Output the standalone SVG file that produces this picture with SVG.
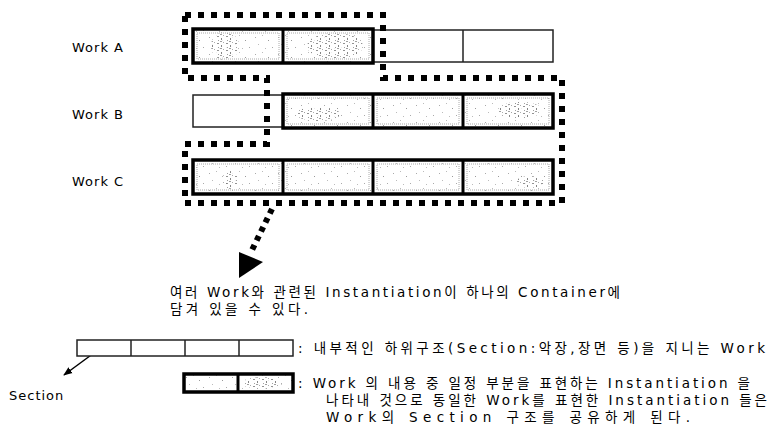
<svg xmlns="http://www.w3.org/2000/svg" width="776" height="426" viewBox="0 0 776 426">
<defs>
<pattern id="speck" width="23" height="17" patternUnits="userSpaceOnUse">
<rect width="23" height="17" fill="#fff"/>
<rect x="2" y="3" width="1" height="1" fill="#aaa"/>
<rect x="9" y="1" width="1" height="1" fill="#bbb"/>
<rect x="15" y="6" width="1" height="1" fill="#999"/>
<rect x="5" y="10" width="1" height="1" fill="#bbb"/>
<rect x="19" y="13" width="1" height="1" fill="#aaa"/>
<rect x="12" y="14" width="1" height="1" fill="#bbb"/>
</pattern>
<pattern id="dense" width="9" height="7" patternUnits="userSpaceOnUse">
<rect width="9" height="7" fill="#fff"/>
<rect x="1" y="1" width="2" height="1" fill="#777"/>
<rect x="5" y="3" width="1" height="2" fill="#666"/>
<rect x="2" y="5" width="1" height="1" fill="#888"/>
<rect x="7" y="0" width="1" height="1" fill="#999"/>
<rect x="4" y="6" width="2" height="1" fill="#888"/>
</pattern>
<marker id="ah" viewBox="0 0 10 10" refX="9" refY="5" markerWidth="6" markerHeight="6" orient="auto">
<path d="M0,1 L10,5 L0,9 z" fill="#000"/>
</marker>
</defs>
<style>
.lbl{font-family:"DejaVu Sans","Noto Sans CJK KR",sans-serif;font-size:13px;fill:#000;letter-spacing:1px}
.kr{font-family:"DejaVu Sans","Noto Sans CJK KR",sans-serif;font-size:13.5px;fill:#000}
.thin{fill:#fff;stroke:#222;stroke-width:1.5}
.sh{fill:url(#speck)}
.dn{fill:url(#dense);opacity:0.8}
.inner{fill:none;stroke:#aaa;stroke-width:1;stroke-dasharray:1 1}
.thick{fill:none;stroke:#000;stroke-width:3.5}
.div{stroke:#000;stroke-width:3}
.tdiv{stroke:#222;stroke-width:1.5}
.dots{fill:none;stroke:#000;stroke-width:6;stroke-dasharray:6 7}
</style>

<g id="labels">
<text class="lbl" x="72" y="52">Work A</text>
<text class="lbl" x="72" y="119">Work B</text>
<text class="lbl" x="72" y="186">Work C</text>
</g>

<g id="workA">
<rect class="sh" x="193" y="29" width="180" height="34"/>
<ellipse class="dn" cx="225" cy="46" rx="14" ry="14"/>
<ellipse class="dn" cx="335" cy="46" rx="28" ry="13"/>
<rect class="inner" x="197" y="33" width="82" height="26"/>
<rect class="inner" x="287" y="33" width="82" height="26"/>
<rect class="thin" x="373" y="30" width="180" height="32"/>
<line class="tdiv" x1="463" y1="30" x2="463" y2="62"/>
<rect class="thick" x="193" y="29" width="180" height="34"/>
<line class="div" x1="283" y1="29" x2="283" y2="63"/>
</g>

<g id="workB">
<rect class="thin" x="193" y="95" width="90" height="32"/>
<rect class="sh" x="283" y="94" width="270" height="34"/>
<ellipse class="dn" cx="318" cy="114" rx="22" ry="7" opacity="0.4"/>
<ellipse class="dn" cx="520" cy="110" rx="22" ry="8" opacity="0.5"/>
<rect class="inner" x="287" y="98" width="82" height="26"/>
<rect class="inner" x="377" y="98" width="82" height="26"/>
<rect class="inner" x="467" y="98" width="82" height="26"/>
<rect class="thick" x="283" y="94" width="270" height="34"/>
<line class="div" x1="373" y1="94" x2="373" y2="128"/>
<line class="div" x1="463" y1="94" x2="463" y2="128"/>
</g>

<g id="workC">
<rect class="sh" x="193" y="160" width="360" height="34"/>
<ellipse class="dn" cx="230" cy="180" rx="8" ry="9" opacity="0.4"/>
<ellipse class="dn" cx="530" cy="182" rx="14" ry="6" opacity="0.4"/>
<rect class="inner" x="197" y="164" width="82" height="26"/>
<rect class="inner" x="287" y="164" width="82" height="26"/>
<rect class="inner" x="377" y="164" width="82" height="26"/>
<rect class="inner" x="467" y="164" width="82" height="26"/>
<rect class="thick" x="193" y="160" width="360" height="34"/>
<line class="div" x1="283" y1="160" x2="283" y2="194"/>
<line class="div" x1="373" y1="160" x2="373" y2="194"/>
<line class="div" x1="463" y1="160" x2="463" y2="194"/>
</g>

<g id="container">
<path class="dots" d="M185,15 H383 V78 H562 V203 H185 V144 H267 V78 H185 Z"/>
</g>

<g id="connectors">
<line x1="272" y1="209" x2="252" y2="250" stroke="#000" stroke-width="6" stroke-dasharray="5 5"/>
<polygon points="239,252 263,262 239,278" fill="#000"/>
<line x1="98" y1="350" x2="64" y2="375" stroke="#000" stroke-width="1.5" marker-end="url(#ah)"/>
</g>

<g id="caption">
<text class="kr" x="170" y="297" textLength="450" lengthAdjust="spacing">여러 Work와 관련된 Instantiation이 하나의 Container에</text>
<text class="kr" x="170" y="314" textLength="138" lengthAdjust="spacing">담겨 있을 수 있다.</text>
</g>

<g id="legend-work">
<rect class="thin" x="77" y="340" width="216" height="16"/>
<line class="tdiv" x1="131" y1="340" x2="131" y2="356"/>
<line class="tdiv" x1="185" y1="340" x2="185" y2="356"/>
<line class="tdiv" x1="239" y1="340" x2="239" y2="356"/>
<text class="kr" x="298" y="353" textLength="467" lengthAdjust="spacing">: 내부적인 하위구조(Section:악장,장면 등)을 지니는 Work</text>
</g>

<g id="legend-section">
<text class="lbl" x="9" y="400">Section</text>
</g>

<g id="legend-inst">
<rect class="sh" x="184" y="374" width="109" height="18"/>
<ellipse class="dn" cx="262" cy="383" rx="20" ry="6" opacity="0.6"/>
<rect class="thick" x="184" y="374" width="109" height="18"/>
<line class="div" x1="238" y1="374" x2="238" y2="392"/>
<text class="kr" x="298" y="388" textLength="452" lengthAdjust="spacing">: Work 의 내용 중 일정 부분을 표현하는 Instantiation 을</text>
<text class="kr" x="326" y="405" textLength="441" lengthAdjust="spacing">나타내 것으로 동일한 Work를 표현한 Instantiation 들은</text>
<text class="kr" x="326" y="422" textLength="364" lengthAdjust="spacing">Work의 Section 구조를 공유하게 된다.</text>
</g>
</svg>
